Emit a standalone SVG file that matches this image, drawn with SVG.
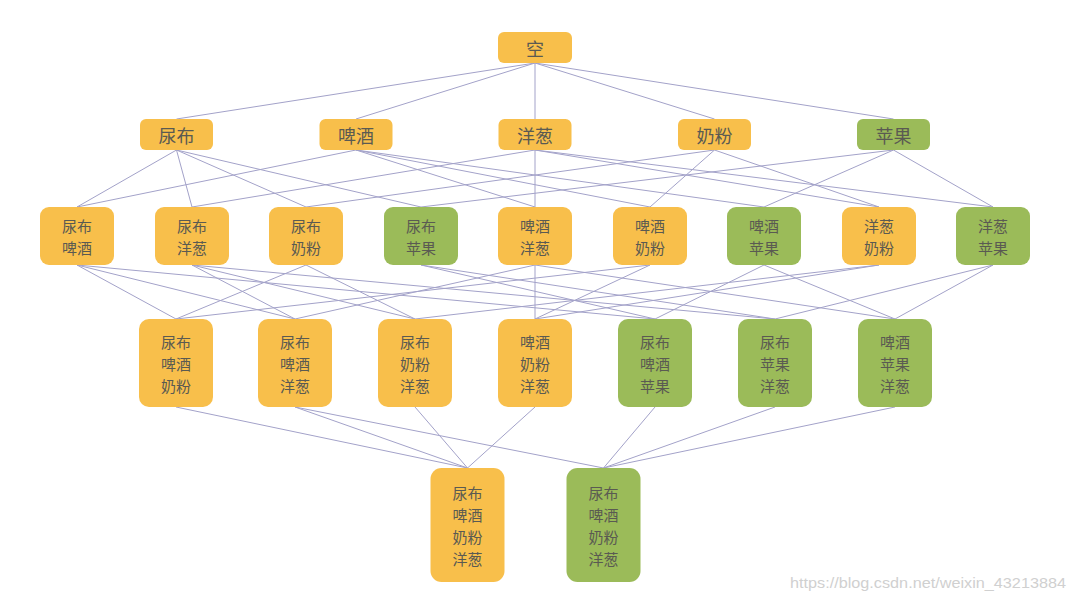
<svg xmlns="http://www.w3.org/2000/svg" width="1073" height="600" viewBox="0 0 1073 600">
<style>
.o{fill:#F8BF4B}
.g{fill:#9BBB59}
.t{font-family:"Noto Sans CJK SC","Noto Sans",sans-serif;font-size:18px;fill:#5A5A52;text-anchor:middle;dominant-baseline:central}
.m{font-size:15px}
#edges line{stroke:#A3A2C9;stroke-width:1}
.wm{font-family:"Liberation Sans",Arial,sans-serif;font-size:15px;fill:#D0D0D0}
</style>
<rect width="1073" height="600" fill="#FFFFFF"/>
<g id="edges">
<line x1="535" y1="63" x2="176.5" y2="119"/>
<line x1="535" y1="63" x2="356" y2="119"/>
<line x1="535" y1="63" x2="535" y2="119"/>
<line x1="535" y1="63" x2="714.5" y2="119"/>
<line x1="535" y1="63" x2="893.5" y2="119"/>
<line x1="176.5" y1="150" x2="77" y2="207"/>
<line x1="176.5" y1="150" x2="192" y2="207"/>
<line x1="176.5" y1="150" x2="306" y2="207"/>
<line x1="176.5" y1="150" x2="421" y2="207"/>
<line x1="356" y1="150" x2="77" y2="207"/>
<line x1="356" y1="150" x2="535" y2="207"/>
<line x1="356" y1="150" x2="650" y2="207"/>
<line x1="356" y1="150" x2="764" y2="207"/>
<line x1="535" y1="150" x2="192" y2="207"/>
<line x1="535" y1="150" x2="535" y2="207"/>
<line x1="535" y1="150" x2="879" y2="207"/>
<line x1="535" y1="150" x2="993" y2="207"/>
<line x1="714.5" y1="150" x2="306" y2="207"/>
<line x1="714.5" y1="150" x2="650" y2="207"/>
<line x1="714.5" y1="150" x2="879" y2="207"/>
<line x1="893.5" y1="150" x2="421" y2="207"/>
<line x1="893.5" y1="150" x2="764" y2="207"/>
<line x1="893.5" y1="150" x2="993" y2="207"/>
<line x1="77" y1="265" x2="176" y2="319"/>
<line x1="306" y1="265" x2="176" y2="319"/>
<line x1="650" y1="265" x2="176" y2="319"/>
<line x1="77" y1="265" x2="295" y2="319"/>
<line x1="192" y1="265" x2="295" y2="319"/>
<line x1="535" y1="265" x2="295" y2="319"/>
<line x1="306" y1="265" x2="415" y2="319"/>
<line x1="192" y1="265" x2="415" y2="319"/>
<line x1="879" y1="265" x2="415" y2="319"/>
<line x1="535" y1="265" x2="535" y2="319"/>
<line x1="650" y1="265" x2="535" y2="319"/>
<line x1="879" y1="265" x2="535" y2="319"/>
<line x1="77" y1="265" x2="655" y2="319"/>
<line x1="421" y1="265" x2="655" y2="319"/>
<line x1="764" y1="265" x2="655" y2="319"/>
<line x1="421" y1="265" x2="775" y2="319"/>
<line x1="192" y1="265" x2="775" y2="319"/>
<line x1="993" y1="265" x2="775" y2="319"/>
<line x1="764" y1="265" x2="895" y2="319"/>
<line x1="535" y1="265" x2="895" y2="319"/>
<line x1="993" y1="265" x2="895" y2="319"/>
<line x1="176" y1="407" x2="467.5" y2="468"/>
<line x1="295" y1="407" x2="467.5" y2="468"/>
<line x1="415" y1="407" x2="467.5" y2="468"/>
<line x1="535" y1="407" x2="467.5" y2="468"/>
<line x1="295" y1="407" x2="603.5" y2="468"/>
<line x1="655" y1="407" x2="603.5" y2="468"/>
<line x1="775" y1="407" x2="603.5" y2="468"/>
<line x1="895" y1="407" x2="603.5" y2="468"/>
</g>
<g id="n0"><rect class="o" x="498" y="32" width="74" height="31" rx="6"/><text class="t" x="535" y="47.5">空</text></g>
<g id="n1a"><rect class="o" x="140" y="119" width="73" height="31" rx="6"/><text class="t" x="176.5" y="134.5">尿布</text></g>
<g id="n1b"><rect class="o" x="319.5" y="119" width="73" height="31" rx="6"/><text class="t" x="356" y="134.5">啤酒</text></g>
<g id="n1c"><rect class="o" x="498.5" y="119" width="73" height="31" rx="6"/><text class="t" x="535" y="134.5">洋葱</text></g>
<g id="n1d"><rect class="o" x="678" y="119" width="73" height="31" rx="6"/><text class="t" x="714.5" y="134.5">奶粉</text></g>
<g id="n1e"><rect class="g" x="857" y="119" width="73" height="31" rx="6"/><text class="t" x="893.5" y="134.5">苹果</text></g>
<g id="n2a"><rect class="o" x="40" y="207" width="74" height="58" rx="9"/><text class="t m" x="77" y="225">尿布</text><text class="t m" x="77" y="247">啤酒</text></g>
<g id="n2b"><rect class="o" x="155" y="207" width="74" height="58" rx="9"/><text class="t m" x="192" y="225">尿布</text><text class="t m" x="192" y="247">洋葱</text></g>
<g id="n2c"><rect class="o" x="269" y="207" width="74" height="58" rx="9"/><text class="t m" x="306" y="225">尿布</text><text class="t m" x="306" y="247">奶粉</text></g>
<g id="n2d"><rect class="g" x="384" y="207" width="74" height="58" rx="9"/><text class="t m" x="421" y="225">尿布</text><text class="t m" x="421" y="247">苹果</text></g>
<g id="n2e"><rect class="o" x="498" y="207" width="74" height="58" rx="9"/><text class="t m" x="535" y="225">啤酒</text><text class="t m" x="535" y="247">洋葱</text></g>
<g id="n2f"><rect class="o" x="613" y="207" width="74" height="58" rx="9"/><text class="t m" x="650" y="225">啤酒</text><text class="t m" x="650" y="247">奶粉</text></g>
<g id="n2g"><rect class="g" x="727" y="207" width="74" height="58" rx="9"/><text class="t m" x="764" y="225">啤酒</text><text class="t m" x="764" y="247">苹果</text></g>
<g id="n2h"><rect class="o" x="842" y="207" width="74" height="58" rx="9"/><text class="t m" x="879" y="225">洋葱</text><text class="t m" x="879" y="247">奶粉</text></g>
<g id="n2i"><rect class="g" x="956" y="207" width="74" height="58" rx="9"/><text class="t m" x="993" y="225">洋葱</text><text class="t m" x="993" y="247">苹果</text></g>
<g id="n3a"><rect class="o" x="139" y="319" width="74" height="88" rx="10"/><text class="t m" x="176" y="341">尿布</text><text class="t m" x="176" y="363">啤酒</text><text class="t m" x="176" y="385">奶粉</text></g>
<g id="n3b"><rect class="o" x="258" y="319" width="74" height="88" rx="10"/><text class="t m" x="295" y="341">尿布</text><text class="t m" x="295" y="363">啤酒</text><text class="t m" x="295" y="385">洋葱</text></g>
<g id="n3c"><rect class="o" x="378" y="319" width="74" height="88" rx="10"/><text class="t m" x="415" y="341">尿布</text><text class="t m" x="415" y="363">奶粉</text><text class="t m" x="415" y="385">洋葱</text></g>
<g id="n3d"><rect class="o" x="498" y="319" width="74" height="88" rx="10"/><text class="t m" x="535" y="341">啤酒</text><text class="t m" x="535" y="363">奶粉</text><text class="t m" x="535" y="385">洋葱</text></g>
<g id="n3e"><rect class="g" x="618" y="319" width="74" height="88" rx="10"/><text class="t m" x="655" y="341">尿布</text><text class="t m" x="655" y="363">啤酒</text><text class="t m" x="655" y="385">苹果</text></g>
<g id="n3f"><rect class="g" x="738" y="319" width="74" height="88" rx="10"/><text class="t m" x="775" y="341">尿布</text><text class="t m" x="775" y="363">苹果</text><text class="t m" x="775" y="385">洋葱</text></g>
<g id="n3g"><rect class="g" x="858" y="319" width="74" height="88" rx="10"/><text class="t m" x="895" y="341">啤酒</text><text class="t m" x="895" y="363">苹果</text><text class="t m" x="895" y="385">洋葱</text></g>
<g id="n4a"><rect class="o" x="430.5" y="468" width="74" height="114" rx="11"/><text class="t m" x="467.5" y="492">尿布</text><text class="t m" x="467.5" y="514">啤酒</text><text class="t m" x="467.5" y="536">奶粉</text><text class="t m" x="467.5" y="558">洋葱</text></g>
<g id="n4b"><rect class="g" x="566.5" y="468" width="74" height="114" rx="11"/><text class="t m" x="603.5" y="492">尿布</text><text class="t m" x="603.5" y="514">啤酒</text><text class="t m" x="603.5" y="536">奶粉</text><text class="t m" x="603.5" y="558">洋葱</text></g>
<text class="wm" x="790" y="588" textLength="276" lengthAdjust="spacingAndGlyphs">https://blog.csdn.net/weixin_43213884</text>
</svg>
